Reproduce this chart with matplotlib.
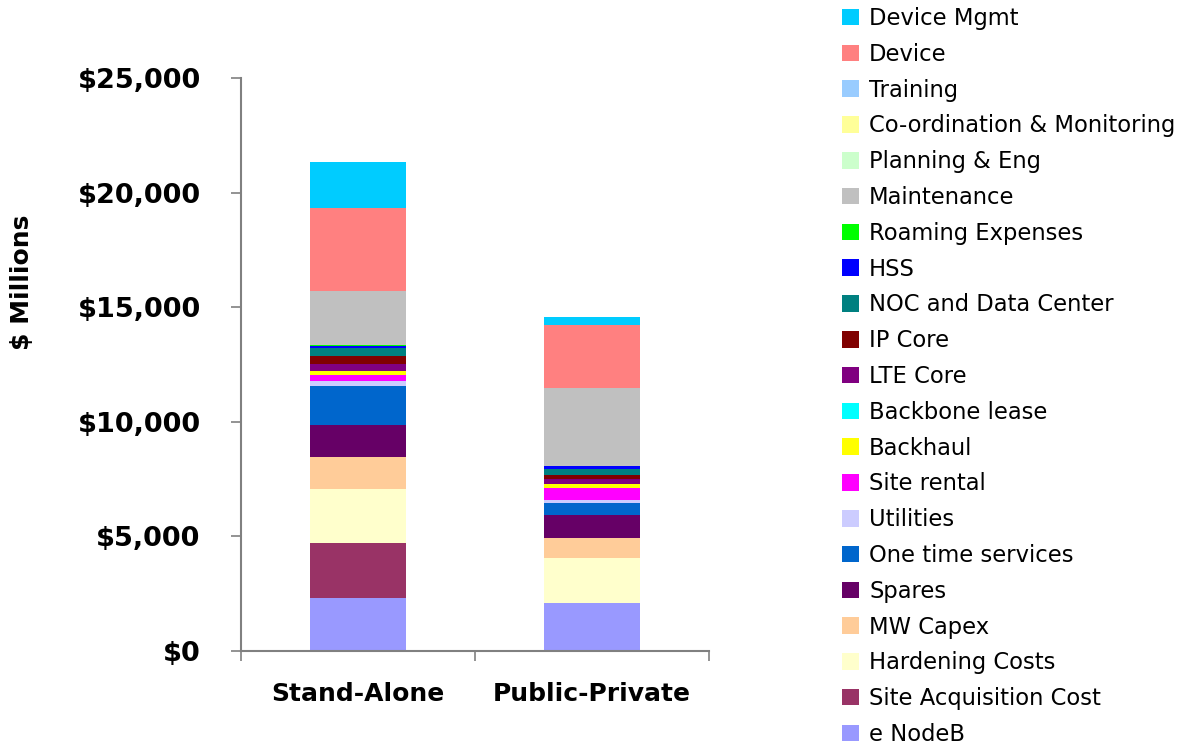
import matplotlib
matplotlib.use("Agg")
import matplotlib.pyplot as plt
from matplotlib.patches import Patch
from matplotlib.ticker import FuncFormatter, FixedLocator

categories = ["Stand-Alone", "Public-Private"]

series_names = [
    "e NodeB", "Site Acquisition Cost", "Hardening Costs", "MW Capex", "Spares",
    "One time services", "Utilities", "Site rental", "Backhaul", "Backbone lease",
    "LTE Core", "IP Core", "NOC and Data Center", "HSS", "Roaming Expenses",
    "Maintenance", "Planning & Eng", "Co-ordination & Monitoring", "Training",
    "Device", "Device Mgmt",
]

enodeb = [2300, 2100]
site_acq = [2400, 0]
hardening = [2350, 1950]
mw_capex = [1400, 900]
spares = [1400, 1000]
one_time = [1700, 520]
utilities = [220, 130]
site_rental = [260, 520]
backhaul = [175, 175]
backbone = [0, 0]
lte_core = [300, 220]
ip_core = [350, 175]
noc = [350, 260]
hss = [100, 130]
roaming = [30, 0]
maintenance = [2350, 3400]
planning = [0, 0]
coord = [0, 0]
training = [0, 0]
device = [3650, 2750]
device_mgmt = [2000, 350]

series_values = [
    enodeb, site_acq, hardening, mw_capex, spares, one_time, utilities,
    site_rental, backhaul, backbone, lte_core, ip_core, noc, hss, roaming,
    maintenance, planning, coord, training, device, device_mgmt,
]

colors = [
    "#9999FF", "#993366", "#FFFFCC", "#FFCC99", "#660066", "#0066CC", "#CCCCFF",
    "#FF00FF", "#FFFF00", "#00FFFF", "#800080", "#800000", "#008080", "#0000FF",
    "#00FF00", "#C0C0C0", "#CCFFCC", "#FFFF99", "#99CCFF", "#FF8080", "#00CCFF",
]

yticks = [0, 5000, 10000, 15000, 20000, 25000]

plt.rcParams["font.family"] = ["DejaVu Sans"]

fig = plt.figure(figsize=(11.8, 7.51), dpi=100)
ax = fig.add_axes([241 / 1180, 1 - 651 / 751, 468 / 1180, (651 - 78) / 751])

x = list(range(len(categories)))
bottom = [0.0] * len(categories)
for name, vals, col in zip(series_names, series_values, colors):
    ax.bar(x, vals, bottom=bottom, width=0.41, color=col, edgecolor="none",
           linewidth=0, label=name)
    bottom = [b + v for b, v in zip(bottom, vals)]

ax.set_xlim(-0.5, 1.5)
ax.set_ylim(0, 25000)
ax.set_yticks(yticks)
ax.yaxis.set_major_formatter(FuncFormatter(lambda v, p: "${:,.0f}".format(v)))
ax.set_xticks(x)
ax.set_xticklabels(categories, fontsize=18, fontweight="bold")
ax.xaxis.set_minor_locator(FixedLocator([-0.5, 0.5, 1.5]))
ax.tick_params(axis="x", which="major", length=0, pad=22)
ax.tick_params(axis="x", which="minor", length=7, width=1.2, color="#808080", direction="out")
ax.tick_params(axis="y", length=7, width=1.2, color="#808080", direction="out",
               labelsize=19.5, pad=22)
for lab in ax.get_yticklabels():
    lab.set_fontweight("bold")
for s in ["top", "right"]:
    ax.spines[s].set_visible(False)
for s in ["left", "bottom"]:
    ax.spines[s].set_color("#808080")
    ax.spines[s].set_linewidth(1.5)

fig.text(22 / 1180, 1 - 282 / 751, "$ Millions", rotation=90, fontsize=18,
         fontweight="bold", ha="center", va="center")

handles = [Patch(facecolor=c, edgecolor="none", label=n)
           for n, c in zip(series_names, colors)][::-1]
leg = fig.legend(handles=handles, loc="upper left",
                 bbox_to_anchor=(833 / 1180, 1 + 2 / 751), frameon=False,
                 fontsize=16.3, handlelength=0.75, handleheight=0.75,
                 handletextpad=0.45, labelspacing=0.565, borderaxespad=0)

fig.savefig("out.png", dpi=100)
